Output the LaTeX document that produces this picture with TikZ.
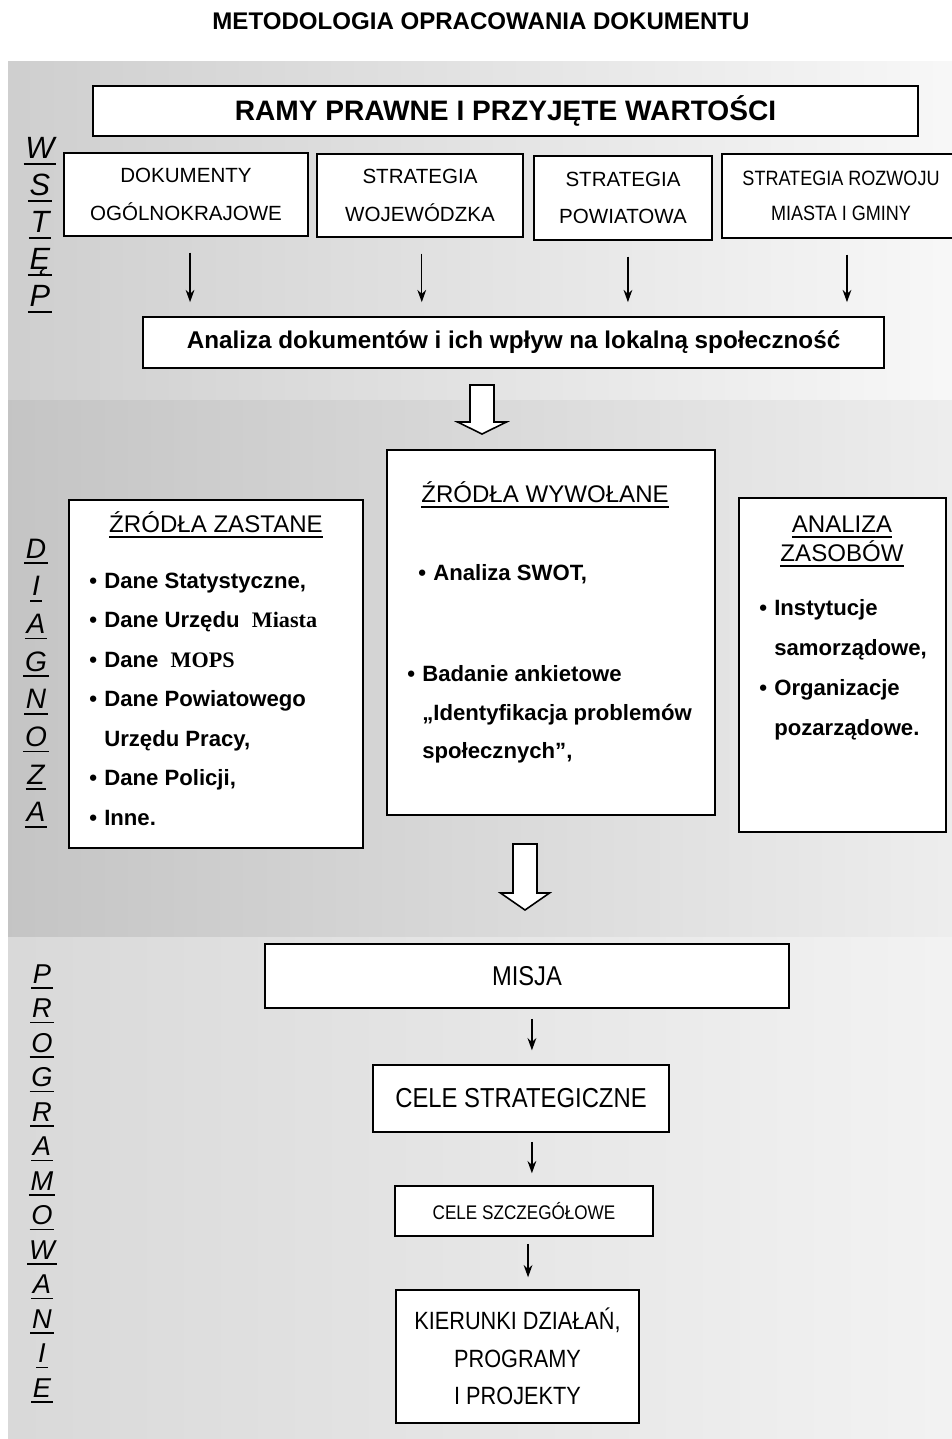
\documentclass[tikz,border=0pt]{standalone}
\usepackage{fontspec}
\setmainfont{Liberation Sans}
\newfontfamily\narrowsf[FakeStretch=0.87]{Liberation Sans}
\newfontfamily\timesrm{Liberation Serif}
\usetikzlibrary{arrows.meta}

\definecolor{bandA}{gray}{0.81}
\definecolor{bandAr}{gray}{0.97}
\definecolor{bandB}{gray}{0.77}
\definecolor{bandBr}{gray}{0.93}
\definecolor{bandC}{gray}{0.85}
\definecolor{bandCr}{gray}{0.95}

\newcommand{\fsz}[2]{\fontsize{#1}{#2}\selectfont}
% 下線（太め）
\newcommand{\ulin}[1]{\leavevmode\setbox0=\hbox{#1}\rlap{\vrule height -2.4pt depth 3.4pt width \wd0}\box0}
\newcommand{\blt}{\makebox[8.5pt][l]{•}}
\newcommand{\nob}{\hspace*{8.5pt}}
% 白抜き矢印: #1 = 上端, #2 = 軸の長さ, #3 = 先端の長さ
\newcommand{\hollowarr}[3]{%
  \draw[line width=0.9pt, fill=white, line join=miter] (#1) ++(-12,0) -- ++(0,#2) -- ++(-12.5,0)
    -- ++(24.5,#3) -- ++(24.5,-#3) -- ++(-12.5,0) -- ++(0,-#2) -- cycle;}

\begin{document}
\begin{tikzpicture}[x=0.02cm, y=-0.02cm,
    frame/.style={draw, line width=0.9pt, fill=white, inner sep=0pt, align=center},
    sz/.style 2 args={minimum width=#1*0.02cm, minimum height=#2*0.02cm},
    item/.style={anchor=base west, inner sep=0pt, font=\bfseries\fsz{12.6}{15}},
    hd/.style={anchor=base, inner sep=0pt, font=\fsz{13.7}{16}},
    arr/.style={-{Stealth[length=7pt,width=5pt]}, line width=0.7pt}]
    \useasboundingbox (0,0) rectangle (952,1439);

    % --- 背景 ---
    \shade[left color=bandA, right color=bandAr] (8,62) rectangle (952,400);
    \shade[left color=bandB, right color=bandBr] (8,400) rectangle (952,937);
    \shade[left color=bandC, right color=bandCr] (8,937) rectangle (952,1439);

    \node[font=\bfseries\fsz{13.7}{16}] (title) at (481,21) {METODOLOGIA OPRACOWANIA DOKUMENTU};

    % --- 左側の縦文字 ---
    \foreach \l [count=\i] in {W,S,T,Ę,P}
        \node[anchor=base, inner sep=0pt, font=\itshape\fsz{17.5}{20}] (ws\i) at (40,{159+37*(\i-1)}) {\ulin{\kern1pt\l\kern1pt}};
    \foreach \l [count=\i] in {D,I,A,G,N,O,Z,A}
        \node[anchor=base, inner sep=0pt, font=\itshape\fsz{16}{18}] (dg\i) at (36,{558+37.7*(\i-1)}) {\ulin{\kern1pt\l\kern1pt}};
    \foreach \l [count=\i] in {P,R,O,G,R,A,M,O,W,A,N,I,E}
        \node[anchor=base, inner sep=0pt, font=\itshape\fsz{15.5}{18}] (pg\i) at (42,{983+34.5*(\i-1)}) {\ulin{\kern1pt\l\kern1pt}};

    % --- 第一段 ---
    \node[frame, sz={825}{50}, font=\bfseries\fsz{16}{18}] (ramy) at (505.5,111) {RAMY PRAWNE I PRZYJĘTE WARTOŚCI};
    \node[frame, sz={244}{83}, font=\fsz{11.7}{21.5}] (dok) at (186,194.5) {DOKUMENTY\\OGÓLNOKRAJOWE};
    \node[frame, sz={206}{83}, font=\fsz{11.7}{21.5}] (woj) at (420,195.5) {STRATEGIA\\WOJEWÓDZKA};
    \node[frame, sz={178}{84}, font=\fsz{11.7}{21.5}] (pow) at (623,198) {STRATEGIA\\POWIATOWA};
    \node[frame, sz={238}{84}, font=\narrowsf\fsz{11.8}{19.8}] (roz) at (841,196) {STRATEGIA ROZWOJU\\MIASTA I GMINY};
    \node[frame, sz={741}{51}, font=\bfseries\fsz{13.8}{16}] (ana) at (513.5,342.5) {Analiza dokumentów i ich wpływ na lokalną społeczność};

    \foreach \n/\dx in {dok/2.3pt, woj/1pt, pow/2.8pt, roz/3.4pt}
        \draw[arr, shorten <=9pt, shorten >=8pt] ([xshift=\dx]\n.south) -- ([xshift=\dx]\n.south |- ana.north);

    \coordinate (h1) at (482,385);
    \hollowarr{h1}{37}{12}

    % --- 第二段（診断） ---
    \node[frame, sz={294}{348}] (zast) at (216,674) {};
    \node[frame, sz={328}{365}] (wyw) at (551,632.5) {};
    \node[frame, sz={207}{334}] (zas) at (842.5,665) {};

    \node[hd] (zastT) at (216,532) {\ulin{ŹRÓDŁA ZASTANE}};
    \foreach \t [count=\i] in {
        {\blt Dane Statystyczne,},
        {\blt Dane Urzędu\ \ {\timesrm Miasta}},
        {\blt Dane\ \ {\timesrm MOPS}},
        {\blt Dane Powiatowego},
        {\nob Urzędu Pracy,},
        {\blt Dane Policji,},
        {\blt Inne.}}
        \node[item] (zl\i) at (89,{588+39.5*(\i-1)}) {\t};

    \node[hd] (wywT) at (545,502) {\ulin{ŹRÓDŁA WYWOŁANE}};
    \node[item] (wl1) at (418,580) {\blt Analiza SWOT,};
    \node[item] (wl2) at (407,681) {\blt Badanie ankietowe};
    \node[item] (wl3) at (422,720) {„Identyfikacja problemów};
    \node[item] (wl4) at (422,758) {społecznych”,};

    \node[hd] (zasT1) at (842,532) {\ulin{ANALIZA}};
    \node[hd] (zasT2) at (842,561) {\ulin{ZASOBÓW}};
    \foreach \t [count=\i] in {{\blt Instytucje}, {\nob samorządowe,}, {\blt Organizacje}, {\nob pozarządowe.}}
        \node[item] (zl\i) at (759,{615+40*(\i-1)}) {\t};

    \coordinate (h2) at (525,844);
    \hollowarr{h2}{49}{17}

    % --- 第三段（計画） ---
    \node[frame, sz={524}{64}, font=\narrowsf\fsz{15.5}{18}] (misja) at (527,976) {MISJA};
    \node[frame, sz={296}{67}, font=\narrowsf\fsz{15.6}{18}] (strat) at (521,1098.5) {CELE STRATEGICZNE};
    \node[frame, sz={258}{50}, font=\narrowsf\fsz{11.2}{14}] (szcz) at (524,1211) {CELE SZCZEGÓŁOWE};
    \node[frame, sz={243}{133}, font=\narrowsf\fsz{14.2}{21.5}] (kier) at (517.5,1356.5) {KIERUNKI DZIAŁAŃ,\\PROGRAMY\\I PROJEKTY};

    \draw[arr, shorten <=5.7pt, shorten >=7.9pt] ([xshift=2.8pt]misja.south) -- ([xshift=2.8pt]misja.south |- strat.north);
    \draw[arr, shorten <=5.1pt, shorten >=6.8pt] ([xshift=6.2pt]strat.south) -- ([xshift=6.2pt]strat.south |- szcz.north);
    \draw[arr, shorten <=4pt, shorten >=6.8pt] ([xshift=2.3pt]szcz.south) -- ([xshift=2.3pt]szcz.south |- kier.north);

\end{tikzpicture}
\end{document}
